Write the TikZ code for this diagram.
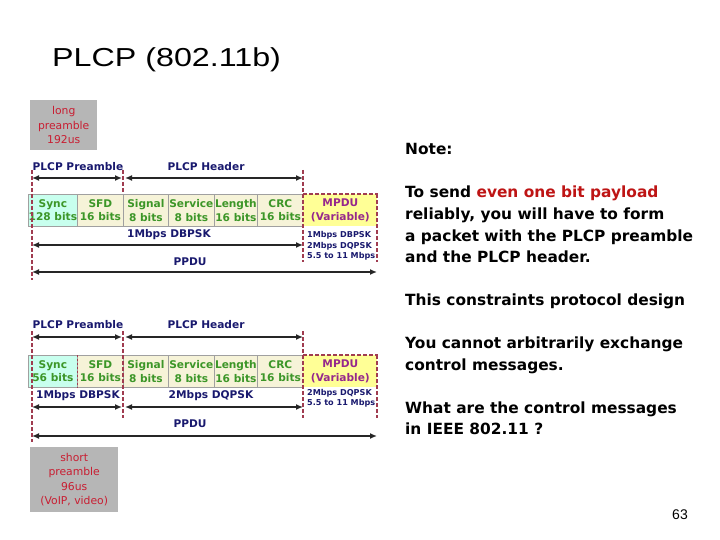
\documentclass[tikz,border=0pt]{standalone}
\usepackage{fontspec}
\setmainfont{Liberation Sans}
\newfontfamily\djv{DejaVu Sans}
\usetikzlibrary{arrows.meta}
\definecolor{graybg}{RGB}{182,182,182}
\definecolor{redtxt}{RGB}{200,30,50}
\definecolor{cyanfill}{RGB}{200,255,238}
\definecolor{beige}{RGB}{246,243,216}
\definecolor{yellowfill}{RGB}{255,255,150}
\definecolor{greentxt}{RGB}{60,150,40}
\definecolor{purpletxt}{RGB}{150,40,140}
\definecolor{navy}{RGB}{25,25,110}
\definecolor{dashred}{RGB}{160,60,80}
\definecolor{notered}{RGB}{190,20,20}
\definecolor{rowgray}{RGB}{160,160,160}
\tikzset{
  graybox/.style={fill=graybg, inner sep=0pt, align=center, text=redtxt,
    font=\djv\fontsize{10.8}{14.3}\selectfont},
  field/.style={draw=rowgray, line width=0.7pt, inner sep=0pt, align=center,
    minimum height=32pt, text=greentxt, anchor=north west,
    font=\djv\bfseries\fontsize{10.6}{13.5}\selectfont},
  lbl/.style={text=navy, inner sep=0pt, font=\djv\bfseries\fontsize{10.6}{12}\selectfont},
  side/.style={text=navy, inner sep=0pt, align=left, anchor=north west,
    font=\djv\bfseries\fontsize{8.1}{10.2}\selectfont},
  dl/.style={draw=dashred, line width=1.3pt, dash pattern=on 4pt off 2pt},
  arr/.style={draw=black!85, line width=1.8pt,
    {Latex[length=7pt,width=6pt]}-{Latex[length=7pt,width=6pt]}},
  note/.style={anchor=base west, inner sep=0pt, font=\djv\bfseries\fontsize{15.4}{18}\selectfont}
}
\begin{document}
\begin{tikzpicture}[x=1pt,y=-1pt]
\useasboundingbox[fill=white] (0,0) rectangle (720,540);

% title
\node[anchor=base west, inner sep=0pt, font=\fontsize{26}{30}\selectfont] (title) at (52,67)
  {\scalebox{1.24}[1]{PLCP (802.11b)}};

% gray boxes
\node[graybox, minimum width=67pt, minimum height=50pt, anchor=north west] (longpre) at (30,100)
  {long\\preamble\\192us};
\node[graybox, minimum width=88pt, minimum height=65pt, anchor=north west] (shortpre) at (30,447)
  {short\\preamble\\96us\\(VoIP, video)};

% ================= diagram 1 =================
\node[field, fill=cyanfill, minimum width=49pt] (sync1) at (28,194) {Sync\\128 bits};
\node[field, fill=beige, minimum width=46pt] (sfd1) at (77,194) {SFD\\16 bits};
\node[field, fill=beige, minimum width=45pt] (sig1) at (123,194) {Signal\\8 bits};
\node[field, fill=beige, minimum width=46pt] (srv1) at (168,194) {Service\\8 bits};
\node[field, fill=beige, minimum width=43pt] (len1) at (214,194) {Length\\16 bits};
\node[field, fill=beige, minimum width=46pt] (crc1) at (257,194) {CRC\\16 bits};
\node[field, draw=none, fill=yellowfill, minimum width=74pt, text=purpletxt] (mpdu1) at (303,194) {MPDU\\(Variable)};

\coordinate (d1a) at (32,170);  \coordinate (d1b) at (32,280);
\coordinate (d1c) at (123,170); \coordinate (d1d) at (123,193);
\coordinate (d1e) at (303,170); \coordinate (d1f) at (303,262);
\coordinate (d1g) at (377,194); \coordinate (d1h) at (377,262);
\draw[dl] (d1a) -- (d1b);
\draw[dl] (d1c) -- (d1d);
\draw[dl] (d1e) -- (d1f);
\draw[dl] (d1g) -- (d1h);
\draw[dl] (mpdu1.north west) -- (mpdu1.north east);

\node[lbl] (pre1) at (78,167) {PLCP Preamble};
\node[lbl] (hdr1) at (206,167) {PLCP Header};
\coordinate (a1a) at (32,178);  \coordinate (a1b) at (122,178);
\coordinate (a1c) at (125,178); \coordinate (a1d) at (303,178);
\draw[arr] (a1a) -- (a1b);
\draw[arr] (a1c) -- (a1d);

\node[lbl] (rate1) at (169,235) {1Mbps DBPSK};
\coordinate (a1e) at (32,245); \coordinate (a1f) at (303,245);
\draw[arr] (a1e) -- (a1f);
\node[side] (side1) at (307,231.5) {1Mbps DBPSK\\2Mbps DQPSK\\5.5 to 11 Mbps};

\node[lbl] (ppdu1) at (190,262) {PPDU};
\coordinate (a1g) at (32,272); \coordinate (a1h) at (377,272);
\draw[arr] (a1g) -- (a1h);

% ================= diagram 2 =================
\node[field, fill=cyanfill, minimum width=49pt] (sync2) at (28,355) {Sync\\56 bits};
\node[field, fill=beige, minimum width=46pt] (sfd2) at (77,355) {SFD\\16 bits};
\node[field, fill=beige, minimum width=45pt] (sig2) at (123,355) {Signal\\8 bits};
\node[field, fill=beige, minimum width=46pt] (srv2) at (168,355) {Service\\8 bits};
\node[field, fill=beige, minimum width=43pt] (len2) at (214,355) {Length\\16 bits};
\node[field, fill=beige, minimum width=46pt] (crc2) at (257,355) {CRC\\16 bits};
\node[field, draw=none, fill=yellowfill, minimum width=74pt, text=purpletxt] (mpdu2) at (303,355) {MPDU\\(Variable)};

\coordinate (d2a) at (32,331);  \coordinate (d2b) at (32,442);
\coordinate (d2c) at (123,331); \coordinate (d2d) at (123,418);
\coordinate (d2e) at (303,331); \coordinate (d2f) at (303,418);
\coordinate (d2g) at (377,355); \coordinate (d2h) at (377,418);
\draw[dl] (d2a) -- (d2b);
\draw[dl] (d2c) -- (d2d);
\draw[dl] (d2e) -- (d2f);
\draw[dl] (d2g) -- (d2h);
\draw[dl] (mpdu2.north west) -- (mpdu2.north east);
\draw[dl, line width=0.9pt, dash pattern=on 2pt off 2pt] (sync2.north east) -- (sync2.south east);

\node[lbl] (pre2) at (78,325) {PLCP Preamble};
\node[lbl] (hdr2) at (206,325) {PLCP Header};
\coordinate (a2a) at (32,337);  \coordinate (a2b) at (122,337);
\coordinate (a2c) at (125,337); \coordinate (a2d) at (303,337);
\draw[arr] (a2a) -- (a2b);
\draw[arr] (a2c) -- (a2d);

\node[lbl] (rate2a) at (78,396) {1Mbps DBPSK};
\node[lbl] (rate2b) at (211,396) {2Mbps DQPSK};
\coordinate (a2e) at (32,407);  \coordinate (a2f) at (122,407);
\coordinate (a2g) at (125,407); \coordinate (a2h) at (303,407);
\draw[arr] (a2e) -- (a2f);
\draw[arr] (a2g) -- (a2h);
\node[side] (side2) at (307,389) {2Mbps DQPSK\\5.5 to 11 Mbps};

\node[lbl] (ppdu2) at (190,424) {PPDU};
\coordinate (a2i) at (32,436); \coordinate (a2j) at (377,436);
\draw[arr] (a2i) -- (a2j);

% ================= note =================
\node[note] (n0) at (405,155) {Note:};
\node[note] (n1) at (405,198) {To send \textcolor{notered}{even one bit payload}};
\node[note] (n2) at (405,219.5) {reliably, you will have to form};
\node[note] (n3) at (405,241) {a packet with the PLCP preamble};
\node[note] (n4) at (405,262.5) {and the PLCP header.};
\node[note] (n5) at (405,305.5) {This constraints protocol design};
\node[note] (n6) at (405,348.5) {You cannot arbitrarily exchange};
\node[note] (n7) at (405,370) {control messages.};
\node[note] (n8) at (405,413) {What are the control messages};
\node[note] (n9) at (405,434.5) {in IEEE 802.11 ?};

\node[inner sep=0pt, font=\fontsize{14}{16}\selectfont] (page) at (680,515) {63};
\end{tikzpicture}
\end{document}
